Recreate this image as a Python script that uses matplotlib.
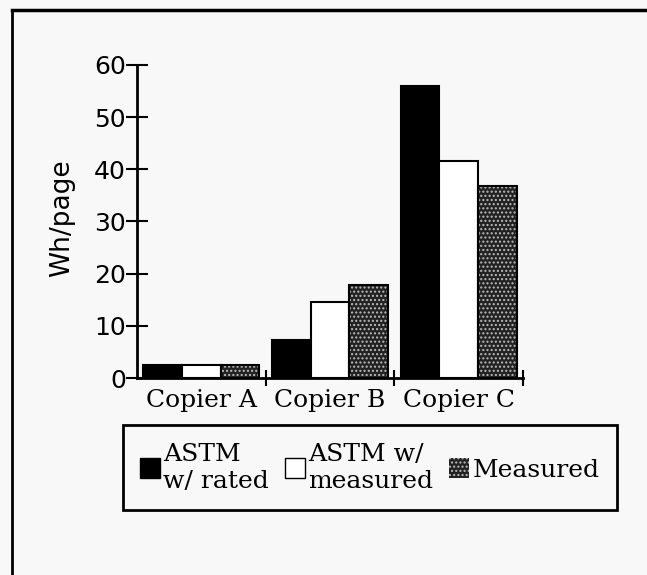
import matplotlib
matplotlib.use("Agg")
import matplotlib.pyplot as plt
from matplotlib.patches import Patch
from matplotlib.lines import Line2D
import numpy as np

copiers = ["Copier A", "Copier B", "Copier C"]
astm_rated = [2.5, 7.2, 56.0]
astm_measured = [2.5, 14.5, 41.5]
measured = [2.5, 17.8, 36.8]
series_labels = ["ASTM\nw/ rated", "ASTM w/\nmeasured", "Measured"]
yticks = [0, 10, 20, 30, 40, 50, 60]

bg = "#f8f8f8"
serif = "DejaVu Serif"

fig = plt.figure(figsize=(6.47, 5.75), dpi=100, facecolor=bg)
ax = fig.add_axes([0.2117, 0.3426, 0.5966, 0.5444], facecolor=bg)

x = np.arange(len(copiers))
w = 0.3
ax.bar(x - w, astm_rated, w, color="black", edgecolor="black", linewidth=1.5)
ax.bar(x, astm_measured, w, color="white", edgecolor="black", linewidth=1.5)
# stippled bars: light specks over dark fill, then a black outline
ax.bar(x + w, measured, w, color="#222222", edgecolor="#bbbbbb",
       hatch="....", linewidth=0)
ax.bar(x + w, measured, w, fill=False, edgecolor="black", linewidth=1.5)

ax.set_xlim(-0.5, 2.5)
ax.set_ylim(0, 60)
ax.spines["top"].set_visible(False)
ax.spines["right"].set_visible(False)
for s in ("left", "bottom"):
    ax.spines[s].set_linewidth(2)

ax.set_yticks(yticks)
ax.tick_params(axis="y", direction="inout", length=16, width=1.5,
               labelsize=18, pad=0)
ax.set_xticks([0.5, 1.5, 2.5])
ax.set_xticklabels([])
ax.set_xticks(x, minor=True)
ax.set_xticklabels(copiers, minor=True, fontfamily=serif, fontsize=18)
ax.tick_params(axis="x", which="major", direction="inout", length=12, width=1.5)
ax.tick_params(axis="x", which="minor", length=0, pad=8)
ax.set_ylabel("Wh/page", fontsize=19)
ax.yaxis.set_label_coords(-0.161, 0.511)

handles = [
    Patch(facecolor="black", edgecolor="black"),
    Patch(facecolor="white", edgecolor="black"),
    Patch(facecolor="#222222", edgecolor="#bbbbbb", hatch="....", linewidth=0),
]
leg = fig.legend(handles, series_labels, ncol=3, loc="lower left",
                 bbox_to_anchor=(0.19, 0.113, 0.7635, 0.145), mode="expand",
                 borderaxespad=0,
                 prop={"family": serif, "size": 18}, frameon=True,
                 fancybox=False, edgecolor="black", facecolor=bg,
                 framealpha=1, handlelength=0.8, handleheight=0.8,
                 handletextpad=0.12, columnspacing=0.4, borderpad=0.7,
                 labelspacing=0.1)
leg.get_frame().set_linewidth(2)

# outer page border (top and left edges visible)
fig.add_artist(Line2D([12 / 647, 12 / 647], [0, 1 - 10 / 575],
                      transform=fig.transFigure, color="black", linewidth=2))
fig.add_artist(Line2D([12 / 647, 1], [1 - 10 / 575, 1 - 10 / 575],
                      transform=fig.transFigure, color="black", linewidth=2.5))

fig.savefig("out.png", dpi=100, facecolor=bg)
